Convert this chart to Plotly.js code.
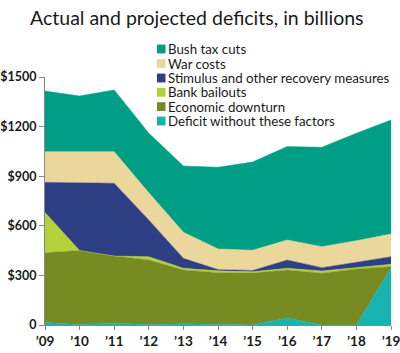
<!DOCTYPE html>
<html>
<head>
<meta charset="utf-8">
<script src="https://cdn.plot.ly/plotly-3.0.1.min.js"></script>
<style>html,body{margin:0;padding:0;background:#fff;}#chart{width:400px;height:353px;}</style>
</head>
<body>
<div id="chart"></div>
<script>
// Data (billions of dollars)
const years = ['2009','2010','2011','2012','2013','2014','2015','2016','2017','2018','2019'];
const tickLabels = ['\u201909','\u201910','\u201911','\u201912','\u201913','\u201914','\u201915','\u201916','\u201917','\u201918','\u201919'];
const seriesNames = ['Deficit without these factors','Economic downturn','Bank bailouts','Stimulus and other recovery measures','War costs','Bush tax cuts'];
const deficitWithout = [15, 3, 10, 3, 8, 3, 0, 42, 0, 0, 345];
const economicDownturn = [422, 447, 407, 390, 325, 313, 314, 291, 313, 339, 8];
const bankBailouts = [243, 0, 0, 20, 10, 12, 8, 10, 14, 8, 14];
const stimulus = [183, 409, 440, 222, 60, 7, 8, 50, 20, 32, 46];
const warCosts = [185, 189, 191, 165, 158, 125, 122, 121, 127, 131, 137];
const bushTaxCuts = [367, 337, 374, 360, 401, 494, 534, 565, 601, 650, 690];
const colors = ['#17b3b1','#788a22','#b3d23a','#2f3f85','#ebd69c','#009e84'];
const yTicks = [0, 300, 600, 900, 1200, 1500];
const yTickText = ['0','$300','$600','$900','$1200','$1500'];

const values = [deficitWithout, economicDownturn, bankBailouts, stimulus, warCosts, bushTaxCuts];
const xIdx = years.map((_, i) => i);
const traces = values.map((v, i) => ({
  type: 'scatter', mode: 'lines', x: xIdx, y: v, name: seriesNames[i],
  stackgroup: 'one', fillcolor: colors[i],
  line: {color: colors[i], width: 0.5, shape: 'linear'},
  hoverinfo: 'skip'
}));

// plot area in pixels
const L = 45, R = 391, T = 77, B = 325;
const px = x => (x - L) / (R - L);
const py = y => (B - y) / (B - T);

// legend (top to bottom order)
const legendOrder = [5, 4, 3, 2, 1, 0];
const rowY = [49, 63.5, 78, 92.3, 106.6, 121];
const annotations = [];
const shapes = [];
legendOrder.forEach((si, r) => {
  shapes.push({type: 'rect', xref: 'paper', yref: 'paper',
    x0: px(157), x1: px(165.5), y0: py(rowY[r] + 4.4), y1: py(rowY[r] - 4.4),
    fillcolor: colors[si], line: {width: 0}});
  annotations.push({xref: 'paper', yref: 'paper', x: px(167), y: py(rowY[r]),
    xanchor: 'left', yanchor: 'middle', showarrow: false, text: seriesNames[si],
    borderpad: 0, font: {family: 'Lato', size: 13.3, color: '#1a1a1a'}});
});

const layout = {
  width: 400, height: 353,
  margin: {l: L, r: 400 - R, t: T, b: 353 - B, pad: 0},
  paper_bgcolor: '#fff', plot_bgcolor: '#fff',
  showlegend: false,
  title: {text: 'Actual and projected deficits, in billions', x: 0.492, xanchor: 'center',
    y: 1 - 18 / 353, yanchor: 'middle', xref: 'container', yref: 'container',
    font: {family: 'Lato', size: 19.5, color: '#1a1a1a'}},
  xaxis: {range: [0, 10], tickvals: xIdx, ticktext: tickLabels, showgrid: false, zeroline: false,
    showline: true, linecolor: '#888', linewidth: 1, ticks: 'outside', ticklen: 4, tickcolor: '#888',
    ticklabeloverflow: 'allow',
    tickfont: {family: 'Lato', size: 13.5, color: '#1a1a1a', weight: 'bold'}, fixedrange: true},
  yaxis: {range: [0, 1500], tickvals: yTicks, ticktext: yTickText, showgrid: false, zeroline: false,
    showline: true, linecolor: '#888', linewidth: 1, ticks: 'outside', ticklen: 5, tickcolor: '#888',
    ticklabeloverflow: 'allow',
    tickfont: {family: 'Lato', size: 12.5, color: '#1a1a1a', weight: 'bold'}, fixedrange: true},
  annotations: annotations,
  shapes: shapes
};

Plotly.newPlot('chart', traces, layout, {displayModeBar: false, staticPlot: true});
</script>
</body>
</html>
